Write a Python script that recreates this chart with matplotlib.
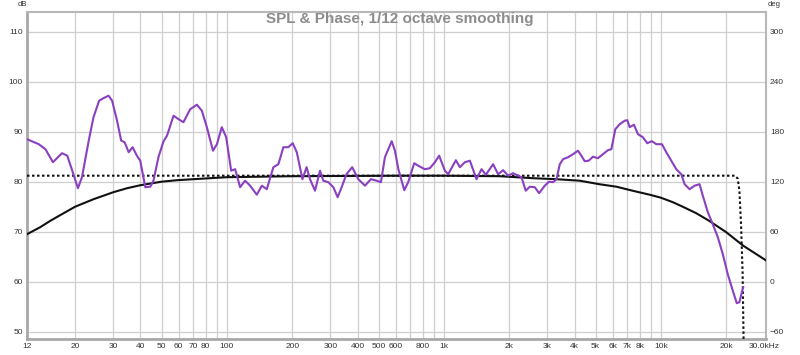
import matplotlib
matplotlib.use("Agg")
import matplotlib.pyplot as plt
from matplotlib.ticker import FixedLocator, NullFormatter

plt.rcParams['font.family'] = ['Liberation Sans', 'DejaVu Sans']

# SPL curve (purple), Hz / dB
spl_freq = [12, 13.6, 14.6, 15.8, 17.4, 18.4, 19.4, 20.6, 21.5, 23.1, 24.3, 25.8, 27.0, 28.5,
            29.6, 31.2, 32.6, 33.8, 35.3, 36.8, 38.5, 39.9, 42.1, 44.4, 45.9, 48.4, 51.0,
            53.0, 56.8, 59.9, 63.1, 67.8, 72.8, 76.7, 80.9, 86.3, 90.0, 94.8, 99.3, 104.7,
            109.2, 115.1, 121.4, 128, 137.4, 144.9, 152.8, 163.8, 172.8, 182.2, 192, 201.2,
            210, 223, 233, 241.7, 254.8, 268.7, 278.3, 293.5, 309.5, 324, 338, 356, 378,
            403.5, 433, 461, 490, 513, 535, 575, 595, 617, 657, 685, 730, 762, 817, 862,
            909, 951, 1011, 1047, 1136, 1185, 1250, 1318, 1414, 1491, 1561, 1686, 1778,
            1875, 1977, 2084, 2198, 2278, 2384, 2488, 2623, 2746, 2916, 3053, 3186, 3304,
            3420, 3543, 3735, 3937, 4150, 4300, 4457, 4650, 4864, 5128, 5408, 5702, 5912,
            6166, 6456, 6809, 7003, 7178, 7513, 7837, 8262, 8650, 9090, 9525, 10110, 10590,
            11160, 11770, 12410, 12860, 13560, 14290, 15070, 15600, 16450, 17340, 18290,
            19290, 20330, 21440, 22370, 23000, 23700, 23950]
spl_db = [88.5, 87.5, 86.5, 83.9, 85.7, 85.2, 82.2, 78.7, 80.9, 88.2, 92.9, 96.2, 96.7, 97.2,
          96.2, 92.2, 88.2, 87.9, 85.9, 86.9, 85.2, 84.2, 78.9, 79.0, 80.2, 84.9, 88.0,
          89.2, 93.2, 92.5, 91.9, 94.5, 95.4, 94.2, 90.9, 86.2, 87.5, 90.9, 88.9, 82.2,
          82.5, 78.9, 80.2, 79.2, 77.4, 79.2, 78.5, 82.9, 83.5, 86.9, 86.9, 87.7,
          85.9, 80.5, 82.9, 80.5, 78.2, 82.2, 80.2, 79.9, 78.9, 76.9, 78.9, 81.5, 82.9,
          80.5, 79.2, 80.5, 80.2, 79.9, 84.9, 88.1, 86.2, 82.5, 78.3, 79.9, 83.7, 83.2, 82.5, 82.7,
          83.9, 85.2, 82.2, 81.5, 84.3, 82.9, 83.9, 84.2, 80.5, 82.5, 81.4, 83.5, 81.5,
          82.3, 81.2, 81.7, 81.2, 80.9, 78.2, 79.0, 78.9, 77.7, 79.2, 80.0, 79.9, 80.5,
          83.5, 84.5, 84.9, 85.5, 86.2, 85.2, 84.1, 84.2, 85.0, 84.7, 85.5, 86.3, 86.5,
          90.5, 91.5, 92.2, 92.3, 90.9, 91.4, 89.5, 88.9, 87.7, 88.1, 87.5, 87.5, 85.9,
          84.2, 82.5, 81.5, 79.5, 78.5, 79.2, 79.5, 77.2, 73.9, 71.5, 68.9,
          65.5, 61.5, 58.2, 55.7, 55.9, 58.2, 58.9]

# Solid black curve
resp_freq = [12, 13.8, 15.4, 17.7, 20, 24.3, 30, 34.7, 40, 50, 58.9, 70, 100, 142, 200,
             626, 1000, 1811, 2576, 3300, 4225, 5200, 6236, 7400, 8870, 10000, 11350,
             12600, 14550, 16650, 20000, 23950, 30400]
resp_db = [69.5, 70.9, 72.2, 73.7, 75.0, 76.5, 77.9, 78.7, 79.3, 80.0, 80.3, 80.5, 80.9,
           81.0, 81.1, 81.2, 81.2, 81.1, 80.7, 80.5, 80.2, 79.5, 79.0, 78.2, 77.4, 76.8,
           75.9, 75.0, 73.7, 72.2, 69.9, 67.2, 64.3]

# Dotted black curve
target_freq = [12, 1000, 22000, 22600, 23000, 23400, 23800, 24100]
target_db = [81.2, 81.2, 81.2, 80.6, 78.2, 71.5, 61.6, 45.0]

x_ticks = [12, 20, 30, 40, 50, 60, 70, 80, 100, 200, 300, 400, 500, 600, 800, 1000,
           2000, 3000, 4000, 5000, 6000, 7000, 8000, 10000, 20000, 30000]
x_labels = ['12', '20', '30', '40', '50', '60', '70', '80', '100', '200', '300', '400',
            '500', '600', '800', '1k', '2k', '3k', '4k', '5k', '6k', '7k', '8k', '10k',
            '20k', '30.0kHz']
grid_freqs = [20, 30, 40, 50, 60, 70, 80, 90, 100, 200, 300, 400, 500, 600, 700, 800,
              900, 1000, 2000, 3000, 4000, 5000, 6000, 7000, 8000, 9000, 10000, 20000]
db_ticks = [50, 60, 70, 80, 90, 100, 110]
deg_ticks = [-60, 0, 60, 120, 180, 240, 300]
title = "SPL & Phase, 1/12 octave smoothing"

fig = plt.figure(figsize=(8.0, 3.55), dpi=100)
ax = fig.add_axes([27 / 800, 1 - 338.7 / 355, (765.7 - 27) / 800, (338.7 - 11.7) / 355])
ax.set_xscale('log')
ax.set_xlim(12, 30400)
ax.set_ylim(48.6, 114)

for f in grid_freqs:
    ax.axvline(f, color='#cfcfcf', lw=0.9, zorder=0)
for d in db_ticks:
    ax.axhline(d, color='#cfcfcf', lw=0.9, zorder=0)

ax.plot(resp_freq, resp_db, color='#111111', lw=1.5, zorder=3)
ax.plot(target_freq, target_db, color='#111111', lw=1.5, ls=(0, (1.2, 1.2)), zorder=3)
ax.plot(spl_freq, spl_db, color='#8a40c0', lw=1.5, zorder=4)

ax.xaxis.set_major_locator(FixedLocator(x_ticks))
ax.set_xticklabels(x_labels)
ax.xaxis.set_minor_formatter(NullFormatter())
ax.xaxis.set_minor_locator(FixedLocator([]))
ax.set_yticks(db_ticks)
ax.tick_params(axis='both', length=0, labelsize=6, colors='#333333', pad=3)

for s in ['left', 'bottom']:
    ax.spines[s].set_color('#a8a8a8')
    ax.spines[s].set_linewidth(2.0)
for s in ['top', 'right']:
    ax.spines[s].set_color('#b8b8b8')
    ax.spines[s].set_linewidth(1.5)

ax2 = ax.twinx()
ax2.set_ylim((48.6 - 60) * 6, (114 - 60) * 6)
ax2.set_yticks(deg_ticks)
ax2.tick_params(axis='y', length=0, labelsize=6, colors='#333333', pad=3)
for s in ax2.spines.values():
    s.set_visible(False)

fig.text(22 / 800, 1 - 5 / 355, 'dB', fontsize=5.5, color='#333333', ha='center', va='center')
fig.text(774 / 800, 1 - 5 / 355, 'deg', fontsize=5.5, color='#333333', ha='center', va='center')
fig.text(400 / 800, 1 - 19 / 355, title, fontsize=11, fontweight='bold', color='#8c8c8c',
         ha='center', va='center')

fig.savefig('out.png', dpi=100)
